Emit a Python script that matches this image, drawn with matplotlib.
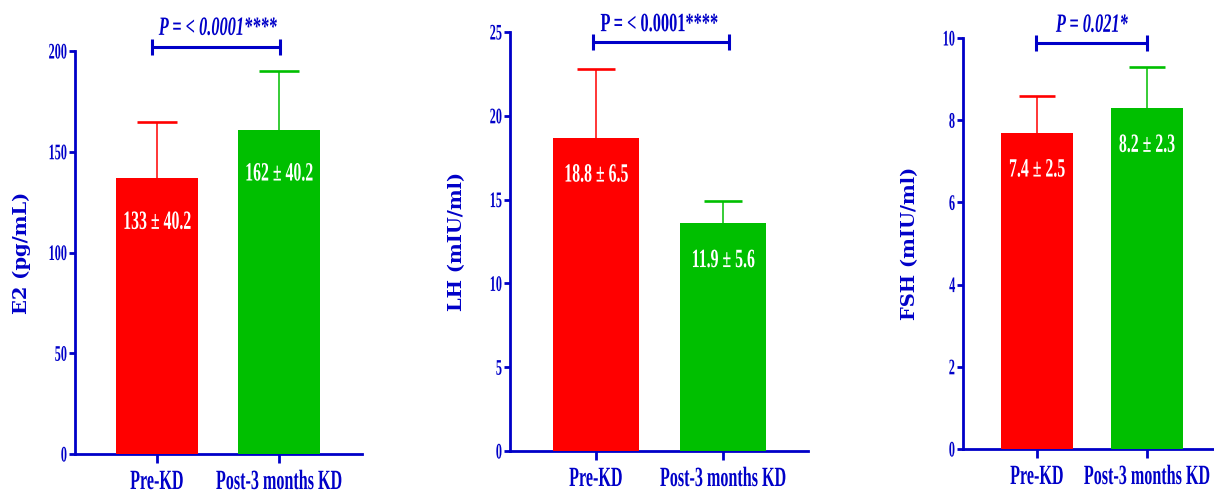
import matplotlib
matplotlib.use('Agg')
import matplotlib.pyplot as plt
from matplotlib import patheffects
from matplotlib.transforms import Affine2D
import numpy as np

# ---------------- data ----------------
categories = ['Pre-KD', 'Post-3 months KD']

e2_mean = [137, 161]
e2_err = [28, 29]
e2_labels = ['133 ± 40.2', '162 ± 40.2']
e2_yticks = [0, 50, 100, 150, 200]

lh_mean = [18.7, 13.6]
lh_err = [4.1, 1.3]
lh_labels = ['18.8 ± 6.5', '11.9 ± 5.6']
lh_yticks = [0, 5, 10, 15, 20, 25]

fsh_mean = [7.7, 8.3]
fsh_err = [0.9, 1.0]
fsh_labels = ['7.4 ± 2.5', '8.2 ± 2.3']
fsh_yticks = [0, 2, 4, 6, 8, 10]

ylabels = ['E2 (pg/mL)', 'LH (mIU/ml)', 'FSH (mIU/ml)']
p_texts = ['P = < 0.0001****', 'P = < 0.0001****', 'P = 0.021*']
p_italic = [True, False, True]

# ---------------- style ----------------
BLUE = '#0000C8'
BAR_COLORS = ['#FF0000', '#00BF00']
SERIF = 'Liberation Serif'
W, H = 1214, 494


class Condense(patheffects.AbstractPathEffect):
    """Horizontally condense glyph outlines (text stays a Text artist)."""

    def __init__(self, sx, anchor='center'):
        super().__init__()
        self.sx = sx
        self.anchor = anchor

    def draw_path(self, renderer, gc, tpath, affine, rgbFace=None):
        ext = tpath.get_extents()
        if self.anchor == 'right':
            a = ext.x1
        elif self.anchor == 'left':
            a = ext.x0
        else:
            a = 0.5 * (ext.x0 + ext.x1)
        t = Affine2D().translate(-a, 0).scale(self.sx, 1).translate(a, 0) + affine
        renderer.draw_path(gc, tpath, t, rgbFace)


fig = plt.figure(figsize=(W / 100, H / 100), dpi=100)


def panel(px, xlim, width, capw, means, errs, labels, ytop, yticks, ylabel,
          ptext, pital, bx, bfrac, pfrac, label_off):
    left, right, bottom, top = px
    ax = fig.add_axes([left / W, 1 - bottom / H, (right - left) / W, (bottom - top) / H])
    x = np.arange(len(categories))
    means = np.asarray(means, float)
    tops = means + np.asarray(errs, float)

    ax.bar(x, means, width, color=BAR_COLORS, zorder=3, linewidth=0)
    ax.vlines(x, means, tops, colors=BAR_COLORS, lw=1.1, zorder=2)
    ax.hlines(tops, x - capw / 2, x + capw / 2, colors=BAR_COLORS, lw=1.9, zorder=2)

    for xi, m, lab in zip(x, means, labels):
        ax.annotate(lab, (xi, m), xytext=(0, label_off), textcoords='offset points',
                    ha='center', va='center', color='white', fontsize=19,
                    fontweight='bold', family=SERIF, zorder=5,
                    path_effects=[Condense(0.6)])

    ax.set_xlim(*xlim)
    ax.set_ylim(0, ytop)
    for s in ['top', 'right']:
        ax.spines[s].set_visible(False)
    for s in ['left', 'bottom']:
        ax.spines[s].set_color(BLUE)
        ax.spines[s].set_linewidth(2.0)

    ax.set_yticks(yticks)
    ax.set_yticklabels([str(t) for t in yticks])
    ax.tick_params(axis='y', direction='out', length=4, width=2, color=BLUE,
                   pad=1.5, labelcolor=BLUE, labelsize=16)
    for t in ax.get_yticklabels():
        t.set_fontfamily(SERIF)
        t.set_fontweight('bold')
        t.set_path_effects([Condense(0.55, 'right')])

    ax.set_xticks(x)
    ax.set_xticklabels(categories)
    ax.tick_params(axis='x', direction='out', length=6.5, width=2, color=BLUE,
                   pad=5, labelcolor=BLUE, labelsize=20)
    for t in ax.get_xticklabels():
        t.set_fontfamily(SERIF)
        t.set_fontweight('bold')
        t.set_path_effects([Condense(0.58)])

    ax.set_ylabel(ylabel, color=BLUE, fontsize=14, fontweight='bold',
                  family='DejaVu Serif', va='center')
    ax.yaxis.set_label_coords(-53 / (right - left), 0.5)

    # significance bracket
    by = bfrac * ytop
    d = 0.02 * ytop
    ax.hlines(by, bx[0], bx[1], color=BLUE, lw=2.2, clip_on=False)
    ax.vlines(bx, by - d, by + d, color=BLUE, lw=2.2, clip_on=False)
    ax.text(0.5, pfrac * ytop, ptext, ha='center', va='baseline', color=BLUE,
            fontsize=19, fontweight='bold', style='italic' if pital else 'normal',
            family=SERIF, clip_on=False, path_effects=[Condense(0.62)])
    return ax


panel((75, 362, 454, 51), (-0.672, 1.68), 0.672, 0.33, e2_mean, e2_err, e2_labels,
      200, e2_yticks, ylabels[0], p_texts[0], p_italic[0], (-0.04, 1.01), 1.01, 1.04, -32)
panel((510, 808, 451, 32), (-0.677, 1.669), 0.67, 0.30, lh_mean, lh_err, lh_labels,
      25, lh_yticks, ylabels[1], p_texts[1], p_italic[1], (-0.02, 1.05), 0.976, 1.002, -27)
panel((963, 1214, 449, 38), (-0.673, 1.61), 0.655, 0.33, fsh_mean, fsh_err, fsh_labels,
      10, fsh_yticks, ylabels[2], p_texts[2], p_italic[2], (-0.01, 1.0), 0.988, 1.015, -27)

fig.savefig('out.png', dpi=100)
